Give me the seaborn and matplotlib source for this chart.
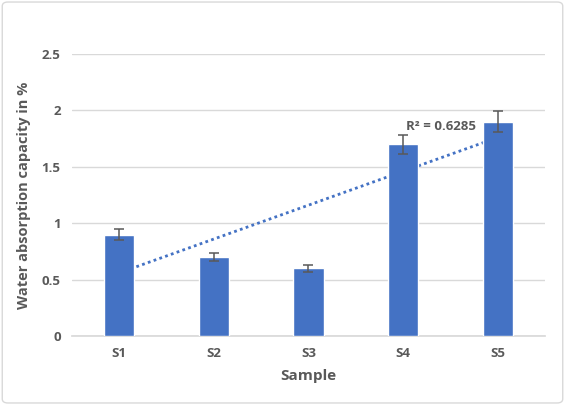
import numpy as np
import pandas as pd
import matplotlib
matplotlib.use("Agg")
import matplotlib.pyplot as plt
import seaborn as sns
from matplotlib.patches import FancyBboxPatch

samples = ["S1", "S2", "S3", "S4", "S5"]
absorption = [0.9, 0.7, 0.6, 1.7, 1.9]
errors = [0.045, 0.035, 0.03, 0.085, 0.095]
r2_label = "R² = 0.6285"

df = pd.DataFrame({"Sample": samples, "Water": absorption})

sns.set_theme(style="white")
plt.rcParams["font.family"] = ["Open Sans", "DejaVu Sans"]

fig = plt.figure(figsize=(5.65, 4.05), dpi=100)
ax = fig.add_axes([0.127, 0.170, 0.838, 0.697])

# light frame around the whole chart, as in the office-style export
frame = FancyBboxPatch((0.004, 0.005), 0.992, 0.99, boxstyle="round,pad=0,rounding_size=0.01",
                       transform=fig.transFigure, fill=False, ec="#d9d9d9", lw=1)
fig.patches.append(frame)

sns.barplot(data=df, x="Sample", y="Water", color="#4472C4", saturation=1,
            width=0.32, errorbar=None, ax=ax, zorder=3)
xs = np.arange(len(samples))
ax.errorbar(xs, absorption, yerr=errors, fmt="none", ecolor="#595959",
            elinewidth=1.1, capsize=3.5, capthick=1.1, zorder=4)

# linear trendline (runs behind the bars)
k, b = np.polyfit(xs, absorption, 1)
ax.plot(xs[[0, -1]], k * xs[[0, -1]] + b, linestyle=(0, (1, 1.2)), color="#4472C4",
        lw=2, zorder=2)
ax.text(3.03, 1.86, r2_label, fontsize=9.5, color="#595959", fontweight="bold",
        va="center", ha="left")

ax.set_ylim(0, 2.5)
ax.set_xlim(-0.5, 4.5)
ax.set_yticks([0, 0.5, 1, 1.5, 2, 2.5])
ax.set_yticklabels(["0", "0.5", "1", "1.5", "2", "2.5"])
ax.yaxis.grid(True, color="#d9d9d9", lw=1, zorder=0)
ax.set_axisbelow(True)
for s in ["top", "right", "left"]:
    ax.spines[s].set_visible(False)
ax.spines["bottom"].set_color("#d9d9d9")
ax.tick_params(axis="both", length=0, colors="#595959", labelsize=9.5, pad=8)
for lab in ax.get_xticklabels() + ax.get_yticklabels():
    lab.set_fontweight("bold")

ax.set_xlabel("Sample", fontsize=11, color="#595959", fontweight="bold", labelpad=6)
ax.set_ylabel("Water absorption capacity in %", fontsize=10.5, color="#595959",
              fontweight="bold", labelpad=8)

fig.savefig("out.png", dpi=100)
